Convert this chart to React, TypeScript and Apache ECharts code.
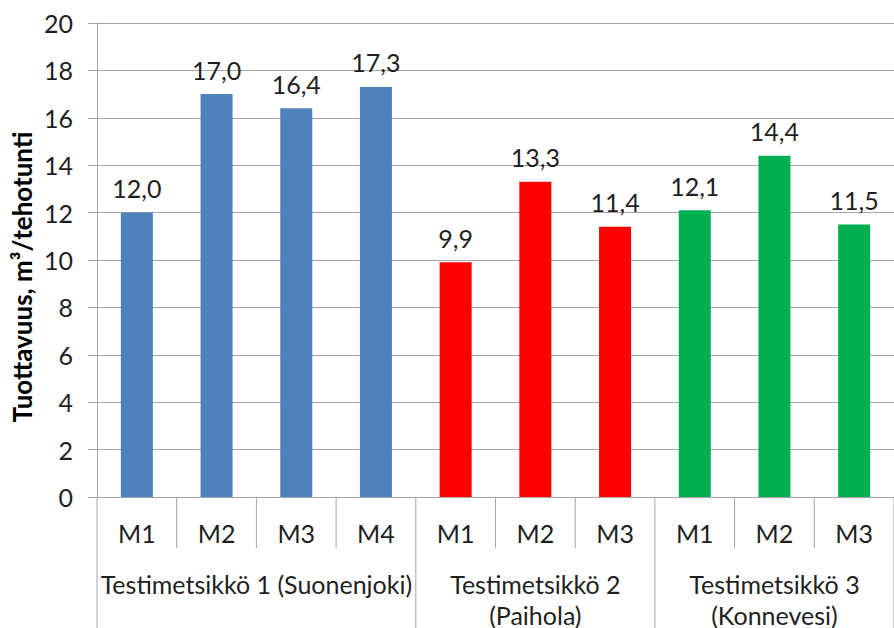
import React, { useEffect, useRef } from "react";
import * as echarts from "echarts";

// Productivity per machine on each test stand
const machines = ["M1", "M2", "M3", "M4", "M1", "M2", "M3", "M1", "M2", "M3"];
const productivity = [12.0, 17.0, 16.4, 17.3, 9.9, 13.3, 11.4, 12.1, 14.4, 11.5];
const barColors = [
  "#4F81BD", "#4F81BD", "#4F81BD", "#4F81BD",
  "#FF0000", "#FF0000", "#FF0000",
  "#00B050", "#00B050", "#00B050",
];
// Stand groups: label and [first, last] machine index
const standNames = [
  "Testimetsikkö 1 (Suonenjoki)",
  "Testimetsikkö 2\n(Paihola)",
  "Testimetsikkö 3\n(Konnevesi)",
];
const standRanges = [
  [0, 3],
  [4, 6],
  [7, 9],
];
const yTicks = [0, 2, 4, 6, 8, 10, 12, 14, 16, 18, 20];
const yTitle = "Tuottavuus, m³/tehotunti";

const FONT = "Lato";
const FONT_SIZE = 25;
const GRID_COLOR = "#A6A6A6";
const TEXT_COLOR = "#1F1F1F";

export default function App() {
  const ref = useRef<HTMLDivElement>(null);

  useEffect(() => {
    if (!ref.current) return;
    const chart = echarts.init(ref.current, undefined, { renderer: "svg" });

    chart.setOption({
      animation: false,
      textStyle: { fontFamily: FONT },
      grid: { left: 97, right: -9, top: 23, bottom: 131, containLabel: false },
      xAxis: {
        type: "category",
        data: machines,
        axisLine: { lineStyle: { color: GRID_COLOR, width: 1 } },
        axisTick: { show: false },
        axisLabel: {
          interval: 0,
          color: TEXT_COLOR,
          fontFamily: FONT,
          fontSize: FONT_SIZE,
          margin: 23,
        },
      },
      yAxis: {
        type: "value",
        min: yTicks[0],
        max: yTicks[yTicks.length - 1],
        interval: 2,
        axisLine: { show: true, lineStyle: { color: GRID_COLOR, width: 1 } },
        axisTick: { show: true, length: 9, lineStyle: { color: GRID_COLOR } },
        splitLine: { lineStyle: { color: GRID_COLOR, width: 1 } },
        axisLabel: {
          color: TEXT_COLOR,
          fontFamily: FONT,
          fontSize: FONT_SIZE,
          margin: 24,
        },
      },
      series: [
        {
          type: "bar",
          data: productivity.map((v, i) => ({ value: v, itemStyle: { color: barColors[i] } })),
          barWidth: 32,
          label: {
            show: true,
            position: "top",
            distance: 12,
            color: TEXT_COLOR,
            fontFamily: FONT,
            fontSize: FONT_SIZE,
            formatter: (p: any) => Number(p.value).toFixed(1).replace(".", ","),
          },
        },
      ],
    });

    // Separator lines and stand group labels below the category axis
    const x0 = chart.convertToPixel({ xAxisIndex: 0 }, 0) as number;
    const x1 = chart.convertToPixel({ xAxisIndex: 0 }, 1) as number;
    const catW = x1 - x0;
    const boundary = (i: number) => x0 - catW / 2 + i * catW;
    const yZero = chart.convertToPixel({ yAxisIndex: 0 }, 0) as number;
    const yTop = chart.convertToPixel({ yAxisIndex: 0 }, yTicks[yTicks.length - 1]) as number;

    const graphics: any[] = [];
    const groupStarts = new Set(standRanges.map((r) => r[0]));
    for (let i = 0; i <= machines.length; i++) {
      const full = groupStarts.has(i) || i === machines.length;
      graphics.push({
        type: "line",
        silent: true,
        shape: { x1: boundary(i), y1: yZero, x2: boundary(i), y2: full ? 640 : yZero + 51 },
        style: { stroke: GRID_COLOR, lineWidth: 1 },
      });
    }
    standRanges.forEach((r, k) => {
      const cx = (boundary(r[0]) + boundary(r[1] + 1)) / 2;
      graphics.push({
        type: "text",
        silent: true,
        x: cx,
        y: yZero + 71,
        style: {
          text: standNames[k],
          fill: TEXT_COLOR,
          font: `${FONT_SIZE}px ${FONT}`,
          align: "center",
          verticalAlign: "top",
          lineHeight: 31,
        },
      });
    });
    graphics.push({
      type: "text",
      silent: true,
      x: 22,
      y: (yTop + yZero) / 2 + 17,
      rotation: Math.PI / 2,
      style: {
        text: yTitle,
        fill: "#000000",
        font: `bold 26px ${FONT}`,
        align: "center",
        verticalAlign: "middle",
      },
    });
    chart.setOption({ graphic: graphics });

    return () => chart.dispose();
  }, []);

  return (
    <div
      ref={ref}
      style={{ position: "fixed", left: 0, top: 0, width: 894, height: 628, background: "#fff" }}
    />
  );
}
